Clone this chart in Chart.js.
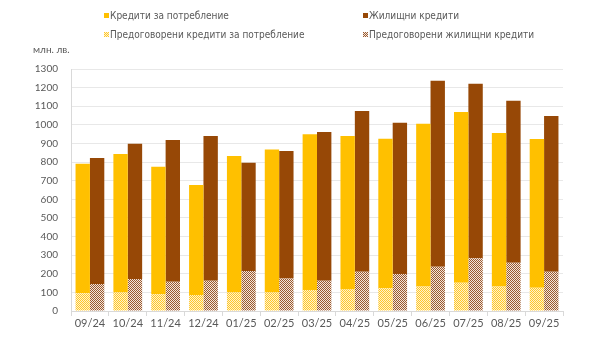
<!DOCTYPE html>
<html>
<head>
<meta charset="utf-8">
<script src="https://cdn.jsdelivr.net/npm/chart.js@4.4.1/dist/chart.umd.min.js"></script>
<style>
  html, body { margin: 0; padding: 0; background: #ffffff; }
  #wrap { position: relative; width: 591px; height: 343px; overflow: hidden; }
  canvas { position: absolute; left: 0; top: 0; }
  .lg { position: absolute; font-family: "Liberation Sans Narrow", "DejaVu Sans Condensed", "Liberation Sans", sans-serif; font-size: 10px; color: #595959; white-space: nowrap; line-height: 12px; }
  .mk { display: inline-block; width: 5px; height: 5px; margin-right: 1px; vertical-align: 1px; }
  #unit { position: absolute; left: 33px; top: 43px; font-family: Lato, "Open Sans", sans-serif; font-size: 10px; color: #595959; }
</style>
</head>
<body>
<div id="wrap">
  <canvas id="c" width="591" height="343"></canvas>
  <div class="lg" style="left:104px; top:10px;"><span class="mk" style="background:#FFC000"></span>Кредити за потребление</div>
  <div class="lg" style="left:363px; top:10px;"><span class="mk" style="background:#974806"></span>Жилищни кредити</div>
  <div class="lg" style="left:104px; top:29px;"><span class="mk" id="mk3"></span>Предоговорени кредити за потребление</div>
  <div class="lg" style="left:363px; top:29px;"><span class="mk" id="mk4"></span>Предоговорени жилищни кредити</div>
  <div id="unit">млн. лв.</div>
</div>
<script>
// ---- data ----
const categories = ["09/24","10/24","11/24","12/24","01/25","02/25","03/25","04/25","05/25","06/25","07/25","08/25","09/25"];
// solid (non-renegotiated) segment of each bar
const consumerLoans   = [696, 743, 685, 591, 732, 768, 837, 824, 803, 875, 917, 825, 799];
const housingLoans    = [677, 727, 761, 777, 582, 685, 798, 863, 812, 999, 938, 870, 836];
// patterned (renegotiated) bottom segment
const consumerRenegotiated = [95, 100, 90, 86, 100, 100, 113, 116, 122, 131, 152, 131, 125];
const housingRenegotiated  = [145, 172, 157, 163, 215, 174, 163, 211, 199, 238, 283, 259, 211];
const yTicks = [0,100,200,300,400,500,600,700,800,900,1000,1100,1200,1300];
const seriesNames = ["Кредити за потребление", "Жилищни кредити", "Предоговорени кредити за потребление", "Предоговорени жилищни кредити"];

function checker(c1, c2) {
  const p = document.createElement('canvas');
  p.width = 2; p.height = 2;
  const g = p.getContext('2d');
  g.fillStyle = c2; g.fillRect(0,0,2,2);
  g.fillStyle = c1; g.fillRect(0,0,1,1); g.fillRect(1,1,1,1);
  return p;
}
const ctx = document.getElementById('c').getContext('2d');
const tileC = checker('#FFC72A', '#FFF2CC');
const tileH = checker('#9A5A30', '#F3E6DC');
const patC = ctx.createPattern(tileC, 'repeat');
const patH = ctx.createPattern(tileH, 'repeat');
document.getElementById('mk3').style.background = 'url(' + tileC.toDataURL() + ')';
document.getElementById('mk4').style.background = 'url(' + tileH.toDataURL() + ')';

new Chart(ctx, {
  type: 'bar',
  data: {
    labels: categories,
    datasets: [
      { label: seriesNames[2], data: consumerRenegotiated, backgroundColor: patC, stack: 'c' },
      { label: seriesNames[0], data: consumerLoans, backgroundColor: '#FFC000', stack: 'c' },
      { label: seriesNames[3], data: housingRenegotiated, backgroundColor: patH, stack: 'h' },
      { label: seriesNames[1], data: housingLoans, backgroundColor: '#974806', stack: 'h' }
    ]
  },
  options: {
    responsive: false,
    animation: false,
    devicePixelRatio: 1,
    layout: { padding: { top: 69, right: 28, left: 0, bottom: 0 } },
    plugins: { legend: { display: false }, tooltip: { enabled: false } },
    datasets: { bar: { categoryPercentage: 0.76, barPercentage: 1.0, borderWidth: 0 } },
    scales: {
      x: {
        stacked: true,
        grid: { display: true, drawOnChartArea: false, offset: true, drawTicks: true, tickLength: 5, color: '#d9d9d9' },
        border: { display: true, color: '#d9d9d9' },
        ticks: { color: '#595959', font: { family: 'Lato', size: 11 }, padding: 1, maxRotation: 0, autoSkip: false },
        afterFit: (s) => { s.height = 32; }
      },
      y: {
        stacked: true,
        min: 0, max: 1300,
        afterBuildTicks: (s) => { s.ticks = yTicks.map(v => ({ value: v })); },
        grid: { color: '#e8e8e8', drawTicks: false },
        border: { display: true, color: '#d9d9d9' },
        ticks: { color: '#595959', font: { family: 'Lato', size: 10 }, padding: 13, callback: (v) => String(v) },
        afterFit: (s) => { s.width = 71; }
      }
    }
  }
});
</script>
</body>
</html>
